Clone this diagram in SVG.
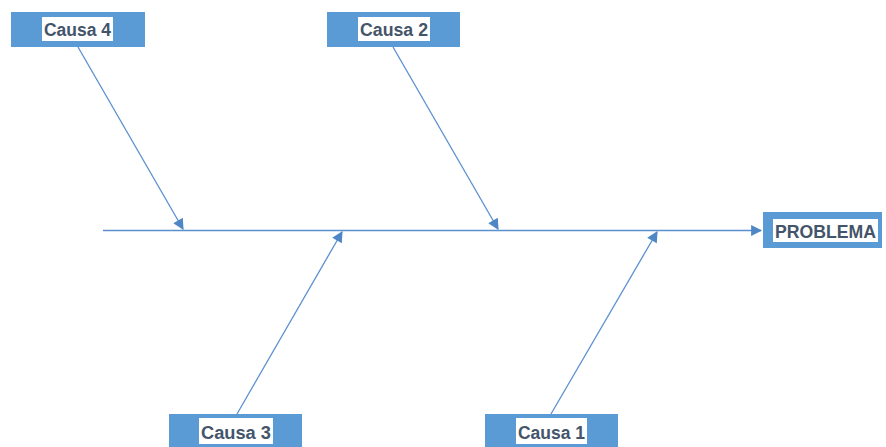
<svg xmlns="http://www.w3.org/2000/svg" width="886" height="447" viewBox="0 0 886 447">
<defs>
<marker id="ah" viewBox="0 0 10 10" refX="9" refY="5" markerWidth="12" markerHeight="11" markerUnits="userSpaceOnUse" orient="auto">
<path d="M0,0 L10,5 L0,10 z" fill="#4f86c6"/>
</marker>
<style>
.box{fill:#5b9bd5;}
.hl{fill:#ffffff;}
.lbl{font-family:"Liberation Sans",Arial,sans-serif;font-weight:bold;font-size:18px;fill:#44546a;text-anchor:middle;}
.con{stroke:#5b8fcf;stroke-width:1.3;fill:none;marker-end:url(#ah);}
</style>
</defs>
<rect width="886" height="447" fill="#ffffff"/>
<g id="connectors">
<line class="con" x1="103" y1="230.5" x2="761" y2="230.5"/>
<line class="con" x1="78" y1="47" x2="183" y2="229"/>
<line class="con" x1="393" y1="47" x2="498" y2="229"/>
<line class="con" x1="237" y1="414" x2="342" y2="232"/>
<line class="con" x1="551" y1="414" x2="657" y2="232"/>
</g>
<g id="causa4">
<rect class="box" x="11" y="12" width="134" height="35"/>
<rect class="hl" x="42" y="17" width="71" height="24"/>
<text class="lbl" x="77.5" y="36" textLength="67" lengthAdjust="spacingAndGlyphs">Causa 4</text>
</g>
<g id="causa2">
<rect class="box" x="327" y="12" width="133" height="35"/>
<rect class="hl" x="358" y="17" width="72" height="24"/>
<text class="lbl" x="394" y="36" textLength="68" lengthAdjust="spacingAndGlyphs">Causa 2</text>
</g>
<g id="problema">
<rect class="box" x="763" y="212" width="119" height="36"/>
<rect class="hl" x="773" y="219" width="105" height="23"/>
<text class="lbl" x="825.5" y="238" textLength="101" lengthAdjust="spacingAndGlyphs">PROBLEMA</text>
</g>
<g id="causa3">
<rect class="box" x="169" y="414" width="133" height="35"/>
<rect class="hl" x="199" y="418" width="74" height="26"/>
<text class="lbl" x="236" y="439" textLength="70" lengthAdjust="spacingAndGlyphs">Causa 3</text>
</g>
<g id="causa1">
<rect class="box" x="485" y="414" width="133" height="35"/>
<rect class="hl" x="516" y="418" width="71" height="26"/>
<text class="lbl" x="551.5" y="439" textLength="67" lengthAdjust="spacingAndGlyphs">Causa 1</text>
</g>
</svg>
